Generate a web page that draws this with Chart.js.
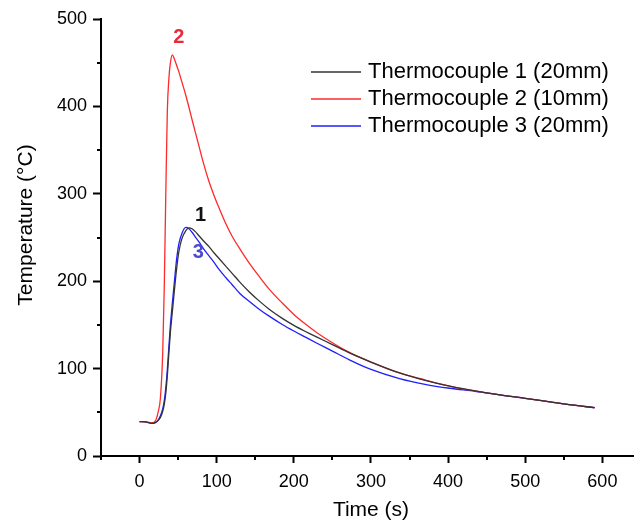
<!DOCTYPE html>
<html>
<head>
<meta charset="utf-8">
<script src="https://cdn.jsdelivr.net/npm/chart.js@4.4.0/dist/chart.umd.min.js"></script>
<style>
  html, body { margin: 0; padding: 0; background: #fff; }
  canvas { display: block; }
</style>
</head>
<body>
<canvas id="chart" width="634" height="524" style="width:634px;height:524px"></canvas>
<script>
const FONT = "'Liberation Sans', Arial, sans-serif";

// time in seconds, shared by all three thermocouples
const time = [0, 8, 16, 21, 24, 27, 30, 32, 34, 36, 38, 40, 42.5, 45, 48, 51, 55, 60, 64, 68,
  72, 77, 83, 90, 97, 103, 112, 120, 130, 142, 155, 168, 185, 200, 215, 230, 250, 272, 300, 337,
  370, 402, 435, 467, 500, 532, 560, 590];

const tc1 = [39.3, 39, 37.4, 38.5, 40.5, 44, 51, 59, 72, 92, 118, 142, 165, 188, 214, 234, 249, 258, 261, 260,
  257, 252, 246, 239.5, 232, 226, 217, 209, 199, 188, 177.5, 168, 157.5, 149.5, 142.5, 136, 127.5, 118, 107.5, 95,
  86.5, 80, 74.5, 70, 66, 62, 58.5, 55.3];

const tc2 = [39.3, 39, 38, 41, 50, 66, 118, 192, 300, 395, 432, 450, 459, 454.5, 447, 439.5, 427.5, 412.5, 399, 385,
  371.5, 354.5, 334.5, 314, 297, 284, 265.5, 251.5, 237, 221, 205.5, 191, 175, 162, 151, 141, 129.5, 118.5, 107.5, 95,
  87, 80, 74.5, 70, 66, 62, 58.5, 55];

const tc3 = [39.3, 39, 37.4, 38.5, 41, 46, 54, 63, 78, 99, 125, 150, 175, 198, 225, 243, 255, 261.5, 260, 256,
  251, 245, 237, 229, 221, 213.5, 204, 196, 186, 177, 168, 160, 150.5, 143, 136, 129, 120, 110, 99, 88.5,
  82, 77.5, 74, 70, 66, 62, 58.5, 55.3];

const labels = ['Thermocouple 1 (20mm)', 'Thermocouple 2 (10mm)', 'Thermocouple 3 (20mm)'];
const colors = ['#333333', '#ff2a2a', '#1f1fff'];

// curve numbers placed near the peaks: [text, time, temperature, colour]
const notes = [
  ['2', 51, 479, '#e8283c'],
  ['1', 79, 275, '#111111'],
  ['3', 76, 233, '#4a4acc']
];

const toPoints = ys => ys.map((y, i) => ({ x: time[i], y }));

const extras = {
  id: 'extras',
  afterDraw(chart) {
    const c = chart.ctx;
    const xs = chart.scales.x, ys = chart.scales.y;
    const area = chart.chartArea;
    c.save();
    // minor ticks
    c.strokeStyle = '#000';
    c.lineWidth = 2;
    xs.ticks.forEach(t => {
      if (t.value % 100 === 0) return;
      const px = Math.round(xs.getPixelForValue(t.value));
      c.beginPath(); c.moveTo(px, area.bottom); c.lineTo(px, area.bottom + 4); c.stroke();
    });
    ys.ticks.forEach(t => {
      if (t.value % 100 === 0) return;
      const py = Math.round(ys.getPixelForValue(t.value));
      c.beginPath(); c.moveTo(area.left, py); c.lineTo(area.left - 4, py); c.stroke();
    });

    // axis titles
    c.fillStyle = '#000';
    c.font = '21px ' + FONT;
    c.textAlign = 'center';
    c.textBaseline = 'middle';
    c.fillText('Time (s)', 371, 510);
    c.save();
    c.translate(26, 225);
    c.rotate(-Math.PI / 2);
    c.fillText('Temperature (\u00B0C)', 0, 0);
    c.restore();

    // legend
    c.font = '22px ' + FONT;
    c.textAlign = 'left';
    chart.data.datasets.forEach((ds, i) => {
      const y = 72 + i * 27;
      c.strokeStyle = ds.borderColor;
      c.lineWidth = 1.5;
      c.beginPath(); c.moveTo(311, y); c.lineTo(361, y); c.stroke();
      c.fillStyle = '#000';
      c.fillText(ds.label, 368, y);
    });

    // curve numbers
    c.font = 'bold 20px ' + FONT;
    c.textAlign = 'center';
    notes.forEach(([txt, t, v, col]) => {
      c.fillStyle = col;
      c.fillText(txt, xs.getPixelForValue(t), ys.getPixelForValue(v));
    });
    c.restore();
  }
};

const tickColor = c => (c.tick && c.tick.value % 100 === 0) ? '#000' : 'rgba(0,0,0,0)';

new Chart(document.getElementById('chart').getContext('2d'), {
  type: 'line',
  data: {
    datasets: [tc1, tc2, tc3].map((ys, i) => ({
      label: labels[i],
      data: toPoints(ys),
      borderColor: colors[i],
      borderWidth: 1.3,
      pointRadius: 0,
      fill: false,
      cubicInterpolationMode: 'monotone'
    }))
  },
  options: {
    responsive: false,
    animation: false,
    layout: { padding: { top: 19, right: 0, left: 0, bottom: 0 } },
    scales: {
      x: {
        type: 'linear',
        min: -50,
        max: 641,
        afterFit(s) { s.height = 68; },
        border: { display: true, color: '#000', width: 2 },
        grid: { drawOnChartArea: false, tickLength: 7, tickWidth: 2, tickColor },
        ticks: {
          stepSize: 50, includeBounds: false, autoSkip: false, maxRotation: 0,
          padding: 8, color: '#000', font: { size: 18, family: FONT },
          callback: v => (v % 100 === 0 ? v : '')
        }
      },
      y: {
        min: 0,
        max: 500,
        afterFit(s) { s.width = 101; },
        border: { display: true, color: '#000', width: 2 },
        grid: { drawOnChartArea: false, tickLength: 8, tickWidth: 2, tickColor },
        ticks: {
          stepSize: 50, includeBounds: false, autoSkip: false,
          padding: 6, color: '#000', font: { size: 18, family: FONT },
          callback: v => (v % 100 === 0 ? v : '')
        }
      }
    },
    plugins: {
      legend: { display: false },
      tooltip: { enabled: false }
    }
  },
  plugins: [extras]
});
</script>
</body>
</html>
